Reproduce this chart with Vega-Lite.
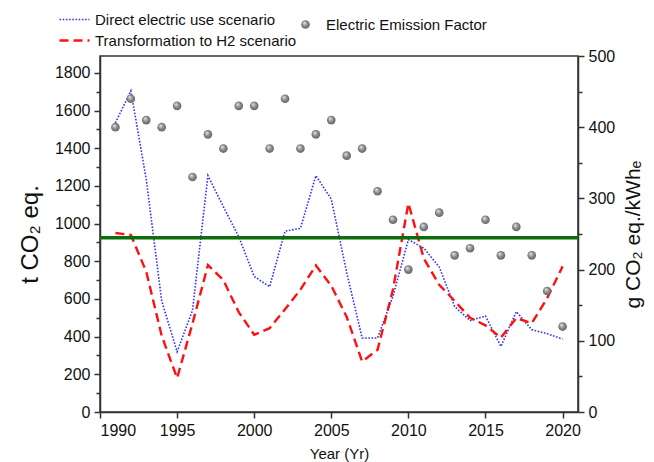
{
  "$schema": "https://vega.github.io/schema/vega-lite/v6.json",
  "width": 478,
  "height": 356,
  "autosize": {"type": "none"},
  "padding": {"left": 100, "top": 56, "right": 76, "bottom": 50},
  "background": "white",
  "config": {
    "font": "Liberation Sans",
    "view": {"stroke": "#333333", "strokeWidth": 1.5},
    "axis": {
      "grid": false,
      "domainColor": "#333333",
      "domainWidth": 1.5,
      "tickColor": "#333333",
      "tickWidth": 1.5,
      "labelColor": "#111111",
      "titleColor": "#111111",
      "labelFontSize": 16,
      "labelOverlap": false,
      "titleFontWeight": "normal",
      "labelFont": "Liberation Sans",
      "titleFont": "Liberation Sans"
    },
    "legend": {"labelFont": "Liberation Sans", "labelFontSize": 15, "labelColor": "#111111", "labelLimit": 0}
  },
  "datasets": {
    "emissions": [
      {"year": 1991, "direct": 1535, "h2": 950, "ef": 400},
      {"year": 1992, "direct": 1705, "h2": 940, "ef": 440},
      {"year": 1993, "direct": 1235, "h2": 745, "ef": 410},
      {"year": 1994, "direct": 590, "h2": 405, "ef": 400},
      {"year": 1995, "direct": 320, "h2": 180, "ef": 430},
      {"year": 1996, "direct": 540, "h2": 470, "ef": 330},
      {"year": 1997, "direct": 1255, "h2": 780, "ef": 390},
      {"year": 1998, "direct": 1090, "h2": 700, "ef": 370},
      {"year": 1999, "direct": 930, "h2": 530, "ef": 430},
      {"year": 2000, "direct": 720, "h2": 410, "ef": 430},
      {"year": 2001, "direct": 665, "h2": 445, "ef": 370},
      {"year": 2002, "direct": 960, "h2": 545, "ef": 440},
      {"year": 2003, "direct": 975, "h2": 650, "ef": 370},
      {"year": 2004, "direct": 1255, "h2": 778, "ef": 390},
      {"year": 2005, "direct": 1130, "h2": 670, "ef": 410},
      {"year": 2006, "direct": 740, "h2": 505, "ef": 360},
      {"year": 2007, "direct": 393, "h2": 268, "ef": 370},
      {"year": 2008, "direct": 393, "h2": 330, "ef": 310},
      {"year": 2009, "direct": 615, "h2": 650, "ef": 270},
      {"year": 2010, "direct": 915, "h2": 1108, "ef": 200},
      {"year": 2011, "direct": 870, "h2": 815, "ef": 260},
      {"year": 2012, "direct": 770, "h2": 675, "ef": 280},
      {"year": 2013, "direct": 560, "h2": 590, "ef": 220},
      {"year": 2014, "direct": 485, "h2": 500, "ef": 230},
      {"year": 2015, "direct": 510, "h2": 460, "ef": 270},
      {"year": 2016, "direct": 348, "h2": 395, "ef": 220},
      {"year": 2017, "direct": 533, "h2": 499, "ef": 260},
      {"year": 2018, "direct": 437, "h2": 471, "ef": 220},
      {"year": 2019, "direct": 416, "h2": 604, "ef": 170},
      {"year": 2020, "direct": 387, "h2": 773, "ef": 120}
    ],
    "reference": [{"level": 925}]
  },
  "layer": [
    {
      "layer": [
        {
          "data": {"name": "emissions"},
          "transform": [{"fold": ["direct", "h2"], "as": ["scenario", "tonnes"]}],
          "mark": {"type": "line"},
          "encoding": {
            "x": {
              "field": "year",
              "type": "quantitative",
              "scale": {"domain": [1990, 2021], "nice": false, "zero": false},
              "axis": {
                "title": "Year (Yr)",
                "titleFontSize": 15,
                "titlePadding": 8,
                "values": [1990, 1992.5, 1995, 1997.5, 2000, 2002.5, 2005, 2007.5, 2010, 2012.5, 2015, 2017.5, 2020],
                "format": "d",
                "labelOverlap": false,
                "labelExpr": "datum.value % 5 === 0 ? datum.label : ''",
                "tickSize": {"condition": {"test": "datum.value % 5 === 0", "value": 6}, "value": 4},
                "labelPadding": 4
              }
            },
            "y": {
              "field": "tonnes",
              "type": "quantitative",
              "scale": {"domain": [0, 1890], "nice": false},
              "axis": {
                "title": "t CO₂ eq.",
                "titleFontSize": 24,
                "titlePadding": 12,
                "values": [0, 100, 200, 300, 400, 500, 600, 700, 800, 900, 1000, 1100, 1200, 1300, 1400, 1500, 1600, 1700, 1800],
                "labelOverlap": false,
                "labelExpr": "datum.value % 200 === 0 ? datum.label : ''",
                "format": "d",
                "tickSize": {"condition": {"test": "datum.value % 200 === 0", "value": 6}, "value": 4},
                "labelPadding": 4
              }
            },
            "color": {
              "field": "scenario",
              "type": "nominal",
              "scale": {"domain": ["direct", "h2"], "range": ["#3434f0", "#ff1010"]},
              "legend": {
                "title": null,
                "orient": "none",
                "legendX": -42,
                "legendY": -46,
                "symbolType": "stroke",
                "symbolSize": 900,
                "symbolStrokeWidth": 2,
                "labelOffset": 4,
                "clipHeight": 19,
                "rowPadding": 2,
                "labelExpr": "datum.value === 'direct' ? 'Direct electric use scenario' : 'Transformation to H2 scenario'"
              }
            },
            "strokeDash": {
              "field": "scenario",
              "type": "nominal",
              "scale": {"domain": ["direct", "h2"], "range": [[1.6, 1.6], [9, 5]]},
              "legend": null
            },
            "strokeWidth": {
              "field": "scenario",
              "type": "nominal",
              "scale": {"domain": ["direct", "h2"], "range": [1.6, 2.4]},
              "legend": null
            }
          }
        },
        {
          "data": {"name": "reference"},
          "mark": {"type": "rule", "color": "#0b6e0b", "strokeWidth": 3.5},
          "encoding": {
            "y": {
              "field": "level",
              "type": "quantitative",
              "axis": {
                "title": "t CO₂ eq.",
                "titleFontSize": 24,
                "titlePadding": 12,
                "values": [0, 100, 200, 300, 400, 500, 600, 700, 800, 900, 1000, 1100, 1200, 1300, 1400, 1500, 1600, 1700, 1800],
                "labelOverlap": false,
                "labelExpr": "datum.value % 200 === 0 ? datum.label : ''",
                "format": "d",
                "tickSize": {"condition": {"test": "datum.value % 200 === 0", "value": 6}, "value": 4},
                "labelPadding": 4
              }
            }
          }
        }
      ]
    },
    {
      "data": {"name": "emissions"},
      "mark": {
        "type": "point",
        "filled": true,
        "size": 75,
        "opacity": 1,
        "fill": {
          "gradient": "radial",
          "x1": 0.35, "y1": 0.3, "r1": 0,
          "x2": 0.5, "y2": 0.5, "r2": 0.6,
          "stops": [
            {"offset": 0, "color": "#eeeeee"},
            {"offset": 0.5, "color": "#8a8a8a"},
            {"offset": 1, "color": "#5a5a5a"}
          ]
        }
      },
      "encoding": {
        "x": {"field": "year", "type": "quantitative"},
        "y": {
          "field": "ef",
          "type": "quantitative",
          "scale": {"domain": [0, 500], "nice": false},
          "axis": {
            "orient": "right",
            "title": "g CO₂ eq./kWhₑ",
            "titleFontSize": 21,
            "titleAngle": -90,
            "titlePadding": 29,
            "values": [0, 50, 100, 150, 200, 250, 300, 350, 400, 450, 500],
            "labelOverlap": false,
            "labelExpr": "datum.value % 100 === 0 ? datum.label : ''",
            "tickSize": {"condition": {"test": "datum.value % 100 === 0", "value": 6}, "value": 4},
            "labelPadding": 4
          }
        },
        "shape": {
          "datum": "Electric Emission Factor",
          "scale": {"range": ["circle"]},
          "legend": {
            "title": null,
            "orient": "none",
            "legendX": 198,
            "legendY": -39,
            "symbolSize": 75,
            "symbolFillColor": "#8a8a8a",
            "symbolStrokeColor": "#8a8a8a",
            "labelOffset": 13
          }
        }
      }
    }
  ],
  "resolve": {"scale": {"y": "independent"}}
}
